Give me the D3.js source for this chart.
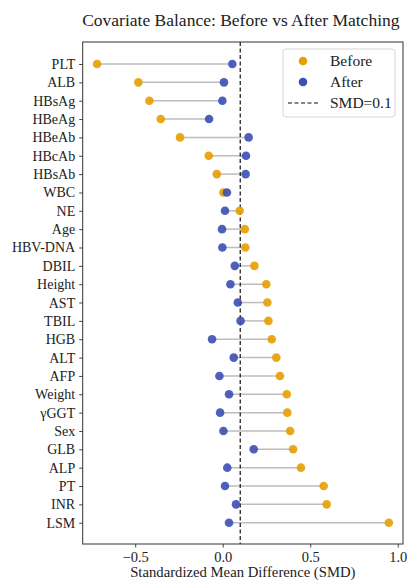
<!DOCTYPE html>
<html>
<head>
<meta charset="utf-8">
<script src="https://cdn.jsdelivr.net/npm/d3@7"></script>
<style>
  body { margin: 0; background: #fff; }
  svg text { font-family: "Liberation Serif", "Times New Roman", serif; fill: #222; }
</style>
</head>
<body>
<div id="chart"></div>
<script>
// covariates, top to bottom
var variables = ["PLT", "ALB", "HBsAg", "HBeAg", "HBeAb", "HBcAb", "HBsAb", "WBC", "NE", "Age",
  "HBV-DNA", "DBIL", "Height", "AST", "TBIL", "HGB", "ALT", "AFP", "Weight", "γGGT",
  "Sex", "GLB", "ALP", "PT", "INR", "LSM"];
var smdBefore = [-0.718, -0.482, -0.419, -0.354, -0.244, -0.080, -0.034, 0.004, 0.097, 0.126,
  0.129, 0.181, 0.249, 0.255, 0.261, 0.280, 0.306, 0.327, 0.366, 0.369,
  0.385, 0.402, 0.447, 0.577, 0.594, 0.949];
var smdAfter = [0.055, 0.007, -0.002, -0.078, 0.148, 0.133, 0.131, 0.024, 0.013, -0.004,
  -0.002, 0.069, 0.044, 0.086, 0.102, -0.061, 0.063, -0.019, 0.036, -0.015,
  0.004, 0.177, 0.026, 0.013, 0.076, 0.036];
var xTicks = [-0.5, 0.0, 0.5, 1.0];
var threshold = 0.1;

var width = 407, height = 581;
var margin = {top: 42, right: 4, bottom: 37, left: 82.7};
var colBefore = "#E69F00", colAfter = "#3B4FB5";

var svg = d3.select("#chart").append("svg")
  .attr("width", width)
  .attr("height", height);

var x = d3.scaleLinear()
  .domain([-0.8, 1.03])
  .range([margin.left, width - margin.right]);

var y = d3.scaleLinear()
  .domain([-1.2, variables.length + 0.16])
  .range([margin.top, height - margin.bottom]);

var rows = variables.map(function (v, i) {
  return {name: v, i: i, before: smdBefore[i], after: smdAfter[i]};
});

// connecting lines
svg.append("g").selectAll("line")
  .data(rows)
  .enter().append("line")
  .attr("x1", function (d) { return x(d.before); })
  .attr("x2", function (d) { return x(d.after); })
  .attr("y1", function (d) { return y(d.i); })
  .attr("y2", function (d) { return y(d.i); })
  .attr("stroke", "#bdbdbd")
  .attr("stroke-width", 1.5);

// threshold line
svg.append("line")
  .attr("x1", x(threshold)).attr("x2", x(threshold))
  .attr("y1", margin.top).attr("y2", height - margin.bottom)
  .attr("stroke", "#111")
  .attr("stroke-width", 1.2)
  .attr("stroke-dasharray", "4,2.5");

svg.append("g").selectAll("circle")
  .data(rows)
  .enter().append("circle")
  .attr("cx", function (d) { return x(d.before); })
  .attr("cy", function (d) { return y(d.i); })
  .attr("r", 4.3)
  .attr("fill", colBefore)
  .attr("fill-opacity", 0.9);

svg.append("g").selectAll("circle")
  .data(rows)
  .enter().append("circle")
  .attr("cx", function (d) { return x(d.after); })
  .attr("cy", function (d) { return y(d.i); })
  .attr("r", 4.3)
  .attr("fill", colAfter)
  .attr("fill-opacity", 0.9);

// axes
var xAxis = svg.append("g")
  .attr("transform", "translate(0," + (height - margin.bottom) + ")")
  .call(d3.axisBottom(x).tickValues(xTicks).tickFormat(d3.format(".1f")).tickSizeOuter(0).tickSize(3.5).tickPadding(4));
xAxis.selectAll("text").style("font-size", "14.5px");

var yAxis = svg.append("g")
  .attr("transform", "translate(" + margin.left + ",0)")
  .call(d3.axisLeft(y).tickValues(d3.range(variables.length))
    .tickFormat(function (i) { return variables[i]; }).tickSizeOuter(0).tickSize(3.5).tickPadding(4));
yAxis.selectAll("text").style("font-size", "14px");
xAxis.select(".domain").remove();
yAxis.select(".domain").remove();
svg.selectAll(".tick line").attr("stroke", "#444");

// frame
svg.append("rect")
  .attr("x", margin.left).attr("y", margin.top)
  .attr("width", width - margin.left - margin.right)
  .attr("height", height - margin.top - margin.bottom)
  .attr("fill", "none")
  .attr("stroke", "#333")
  .attr("stroke-width", 1);

// title and label
svg.append("text")
  .attr("x", (margin.left + width - margin.right) / 2 - 2)
  .attr("y", 26)
  .attr("text-anchor", "middle")
  .style("font-size", "17.5px")
  .text("Covariate Balance: Before vs After Matching");

svg.append("text")
  .attr("x", (margin.left + width - margin.right) / 2)
  .attr("y", 577)
  .attr("text-anchor", "middle")
  .style("font-size", "14.7px")
  .text("Standardized Mean Difference (SMD)");

// legend
var lg = svg.append("g").attr("transform", "translate(283,49)");
lg.append("rect")
  .attr("width", 112).attr("height", 68)
  .attr("rx", 3)
  .attr("fill", "#fff")
  .attr("stroke", "#d6d6d6");
[["Before", colBefore], ["After", colAfter]].forEach(function (e, k) {
  lg.append("circle")
    .attr("cx", 20).attr("cy", 12 + k * 21)
    .attr("r", 4.3)
    .attr("fill", e[1]);
  lg.append("text")
    .attr("x", 47).attr("y", 12 + k * 21)
    .attr("dy", "0.35em")
    .style("font-size", "15.5px")
    .text(e[0]);
});
lg.append("line")
  .attr("x1", 5).attr("x2", 35)
  .attr("y1", 54).attr("y2", 54)
  .attr("stroke", "#111")
  .attr("stroke-width", 1.2)
  .attr("stroke-dasharray", "4,2.5");
lg.append("text")
  .attr("x", 47).attr("y", 54)
  .attr("dy", "0.35em")
  .style("font-size", "15.5px")
  .text("SMD=0.1");
</script>
</body>
</html>
